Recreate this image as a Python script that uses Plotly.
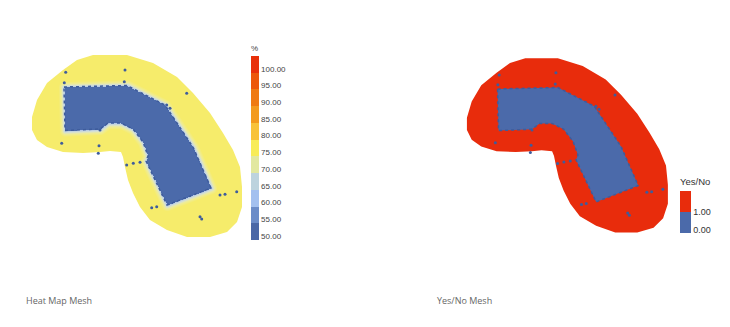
import numpy as np
import plotly.graph_objects as go

# ---------------- data (left-chart pixel coordinate system) ----------------
BLOB_X = [93, 127, 153, 177, 193, 210, 223, 233, 240, 242, 242, 237, 227, 210, 187, 167, 150, 140, 133, 128, 125, 123, 121, 110, 100, 83, 63, 47, 37, 32, 32, 37, 47, 63, 77]
BLOB_Y = [55, 55, 63, 77, 93, 113, 133, 150, 167, 187, 207, 222, 232, 237, 237, 230, 220, 207, 193, 180, 167, 157, 152, 151, 152, 153, 152, 147, 140, 130, 117, 100, 83, 70, 60]

BLD_X = [64, 127, 165, 193, 211, 167, 146, 148, 143, 133, 121, 108, 100, 65]
BLD_Y = [87, 85.5, 105, 147, 188, 205, 161, 156, 142, 129, 123, 123, 129, 130.5]

SENSOR_X = [65.7, 125, 64.3, 124.3, 186.7, 166.7, 170, 61.7, 99, 98.3, 126.7, 133.3, 140, 151.7, 156.7, 200, 201.7, 220, 225, 236.7, 100]
SENSOR_Y = [72.3, 70, 82.7, 81.7, 93.3, 105, 108.3, 143.3, 145.7, 153.3, 165, 163.3, 162.3, 207.7, 206.7, 216.7, 219, 195, 194.3, 191.7, 130]

HEAT_TICKS = [50, 55, 60, 65, 70, 75, 80, 85, 90, 95, 100]
HEAT_LABELS = ["50.00", "55.00", "60.00", "65.00", "70.00", "75.00", "80.00", "85.00", "90.00", "95.00", "100.00"]
HEAT_BAND_COLORS = ["#4a67a6", "#6b8cc8", "#a3c0ef", "#bdd3de", "#e2e8a0", "#f8ec58",
                    "#f8c23a", "#f39a1e", "#ef7a12", "#ec570a", "#e8300a"]
YN_TICKS = [0, 1]
YN_LABELS = ["0.00", "1.00"]

BLUE = "#4b6aaa"
YELLOW = "#f6ec6b"
RED = "#e82c0c"
DOT = "#3e5c9c"

# ---------------- geometry helpers ----------------
def inside(px, py, vx, vy):
    vx = np.asarray(vx, float); vy = np.asarray(vy, float)
    res = np.zeros(px.shape, bool)
    n = len(vx)
    j = n - 1
    for i in range(n):
        xi, yi, xj, yj = vx[i], vy[i], vx[j], vy[j]
        cond = ((yi > py) != (yj > py))
        with np.errstate(divide="ignore", invalid="ignore"):
            xint = (xj - xi) * (py - yi) / (yj - yi) + xi
        res ^= cond & (px < xint)
        j = i
    return res

def seg_dist(px, py, vx, vy):
    d = np.full(px.shape, np.inf)
    n = len(vx)
    for i in range(n):
        x1, y1 = vx[i], vy[i]
        x2, y2 = vx[(i + 1) % n], vy[(i + 1) % n]
        dx, dy = x2 - x1, y2 - y1
        t = np.clip(((px - x1) * dx + (py - y1) * dy) / (dx * dx + dy * dy), 0, 1)
        d = np.minimum(d, np.hypot(px - (x1 + t * dx), py - (y1 + t * dy)))
    return d

step = 1.0
gx = np.arange(50, 225, step)
gy = np.arange(75, 218, step)
GX, GY = np.meshgrid(gx, gy)
in_bld = inside(GX, GY, BLD_X, BLD_Y)
dist = seg_dist(GX, GY, BLD_X, BLD_Y)
D0 = 6.0
heat = np.where(in_bld, 50.0, 61 + 14 * np.clip(dist / D0, 0, 1))
heat = np.where(in_bld | (dist < D0), heat, np.nan)

# ---------------- layout constants ----------------
W, H = 730, 327
A = 0.957          # scale of right drawing vs left
BXo, BYo = 436.3, 5.7

def px2paper_x(p): return p / W
def px2paper_y(p): return 1 - p / H

def disc_scale(colors):
    n = len(colors)
    s = []
    for i, c in enumerate(colors):
        s.append([i / n, c]); s.append([(i + 1) / n, c])
    return s

heat_cont = [[0, BLUE], [0.4, BLUE], [0.44, "#b3c8e8"], [0.6, "#d6e1d2"], [0.75, "#eeec98"], [1, YELLOW]]

def path_of(xs, ys):
    return "M " + " L ".join(f"{x},{y}" for x, y in zip(xs, ys)) + " Z"

fig = go.Figure()

# ---- left: heat map mesh ----
fig.add_trace(go.Heatmap(x=gx, y=gy, z=heat, zmin=50, zmax=75, colorscale=heat_cont,
                         showscale=False, zsmooth=False, hoverinfo="skip", xaxis="x", yaxis="y"))
fig.add_trace(go.Scatter(x=BLD_X + [BLD_X[0]], y=BLD_Y + [BLD_Y[0]], mode="lines",
                         line=dict(color=DOT, width=1.5, dash="dot"), hoverinfo="skip",
                         showlegend=False, xaxis="x", yaxis="y"))
fig.add_trace(go.Scatter(x=SENSOR_X, y=SENSOR_Y, mode="markers",
                         marker=dict(color=DOT, size=3), hoverinfo="skip",
                         showlegend=False, xaxis="x", yaxis="y"))
fig.add_trace(go.Scatter(x=[0], y=[0], mode="markers", showlegend=False, hoverinfo="skip",
                         marker=dict(color=[50], cmin=50, cmax=105, colorscale=disc_scale(HEAT_BAND_COLORS),
                                     showscale=True,
                                     colorbar=dict(x=px2paper_x(251), xanchor="left",
                                                   y=px2paper_y(240), yanchor="bottom",
                                                   len=198, lenmode="pixels", thickness=8,
                                                   outlinewidth=0, xpad=0, ypad=0, ticks="",
                                                   tickvals=[t + 1.2 for t in HEAT_TICKS], ticktext=HEAT_LABELS,
                                                   tickfont=dict(size=8, color="#444", family="Liberation Sans"),
                                                   title=dict(text="%", side="top",
                                                              font=dict(size=8, color="#444", family="Liberation Sans")))),
                         xaxis="x", yaxis="y"))

# ---- right: yes/no mesh ----
fig.add_trace(go.Scatter(x=BLOB_X + [BLOB_X[0]], y=BLOB_Y + [BLOB_Y[0]], mode="lines", fill="toself",
                         fillcolor=RED, line=dict(width=0, color=RED), hoverinfo="skip",
                         showlegend=False, xaxis="x2", yaxis="y2"))
fig.add_trace(go.Scatter(x=BLD_X + [BLD_X[0]], y=BLD_Y + [BLD_Y[0]], mode="lines", fill="toself",
                         fillcolor=BLUE, line=dict(color=DOT, width=1.5, dash="dot"), hoverinfo="skip",
                         showlegend=False, xaxis="x2", yaxis="y2"))
fig.add_trace(go.Scatter(x=SENSOR_X, y=SENSOR_Y, mode="markers",
                         marker=dict(color=DOT, size=3), hoverinfo="skip",
                         showlegend=False, xaxis="x2", yaxis="y2"))
fig.add_trace(go.Scatter(x=[0], y=[0], mode="markers", showlegend=False, hoverinfo="skip",
                         marker=dict(color=[0], cmin=0, cmax=2, colorscale=disc_scale([BLUE, RED]),
                                     showscale=True,
                                     colorbar=dict(x=px2paper_x(680), xanchor="left",
                                                   y=px2paper_y(233), yanchor="bottom",
                                                   len=58, lenmode="pixels", thickness=11,
                                                   outlinewidth=0, xpad=0, ypad=0, ticks="",
                                                   tickvals=[0.15, 1.0], ticktext=YN_LABELS,
                                                   tickfont=dict(size=9, color="#333", family="Liberation Sans"),
                                                   title=dict(text="Yes/No", side="top",
                                                              font=dict(size=9.5, color="#333", family="Liberation Sans")))),
                         xaxis="x2", yaxis="y2"))

fig.update_layout(
    width=W, height=H, margin=dict(l=0, r=0, t=0, b=0),
    paper_bgcolor="white", plot_bgcolor="white", showlegend=False,
    xaxis=dict(domain=[px2paper_x(20), px2paper_x(250)], range=[20, 250], visible=False, fixedrange=True),
    yaxis=dict(domain=[px2paper_y(250), px2paper_y(40)], range=[250, 40], visible=False, fixedrange=True),
    xaxis2=dict(domain=[px2paper_x(440), px2paper_x(680)], anchor="y2",
                range=[(440 - BXo) / A, (680 - BXo) / A], visible=False, fixedrange=True),
    yaxis2=dict(domain=[px2paper_y(250), px2paper_y(40)], anchor="x2",
                range=[(250 - BYo) / A, (40 - BYo) / A], visible=False, fixedrange=True),
    shapes=[dict(type="path", path=path_of(BLOB_X, BLOB_Y), xref="x", yref="y",
                 fillcolor=YELLOW, line=dict(width=0), layer="below")],
    annotations=[
        dict(text="Heat Map Mesh", x=px2paper_x(24), y=px2paper_y(300), xref="paper", yref="paper",
             xanchor="left", yanchor="middle", showarrow=False,
             font=dict(size=9, color="#666", family="Open Sans")),
        dict(text="Yes/No Mesh", x=px2paper_x(435), y=px2paper_y(300), xref="paper", yref="paper",
             xanchor="left", yanchor="middle", showarrow=False,
             font=dict(size=9, color="#666", family="Open Sans")),
    ],
)

fig.write_html("out.html")
